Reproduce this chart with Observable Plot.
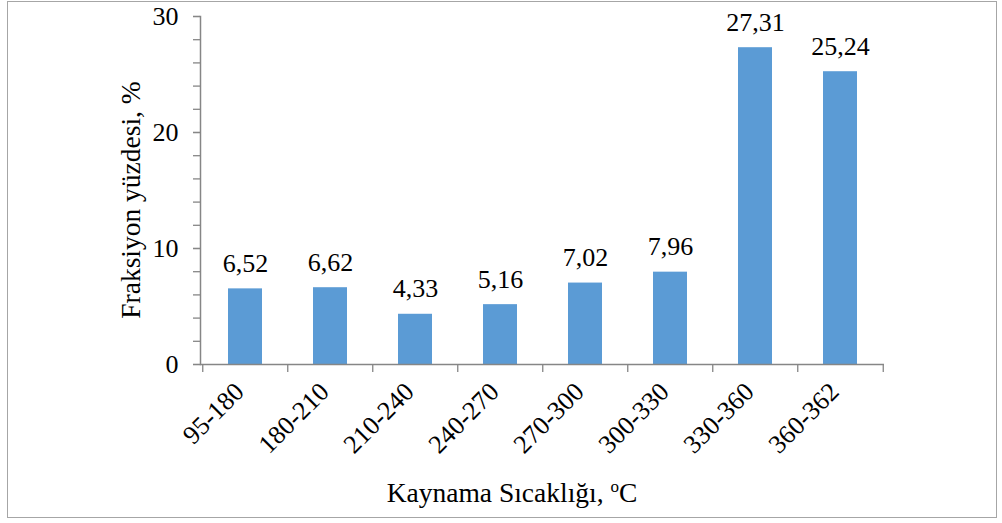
<!DOCTYPE html>
<html>
<head>
<meta charset="utf-8">
<script src="https://cdn.jsdelivr.net/npm/d3@7"></script>
<script src="https://cdn.jsdelivr.net/npm/@observablehq/plot@0.6"></script>
<style>
  html, body { margin: 0; padding: 0; background: #fff; }
  #wrap { position: relative; width: 1002px; height: 523px; overflow: hidden; }
  #border { position: absolute; left: 7px; top: 1px; width: 990px; height: 517px; border: 1.5px solid #a6a6a6; box-sizing: border-box; }
  #chart { position: absolute; left: 0; top: 0; }
</style>
</head>
<body>
<div id="wrap"><div id="border"></div><div id="chart"></div></div>
<script>
const categories = ["95-180", "180-210", "210-240", "240-270", "270-300", "300-330", "330-360", "360-362"];
const values = [6.52, 6.62, 4.33, 5.16, 7.02, 7.96, 27.31, 25.24];
const yTicks = [0, 10, 20, 30];
const yMinorTicks = [0, 2, 4, 6, 8, 10, 12, 14, 16, 18, 20, 22, 24, 26, 28, 30];
const yTitle = "Fraksiyon yüzdesi, %";
const xTitle = "Kaynama Sıcaklığı, ";

const data = categories.map((c, i) => ({cat: c, val: values[i]}));
const fmt = v => v.toFixed(2).replace(".", ",");

const W = 1002, H = 523;
const mL = 200, mR = 118, mT = 16, mB = 159;
const step = (W - mL - mR) / categories.length;
const font = "'Liberation Serif', 'Times New Roman', serif";
const axisGray = "#868686";
const FS = 26;
const TFS = 27.5;

const chart = Plot.plot({
  width: W, height: H,
  marginLeft: mL, marginRight: mR, marginTop: mT, marginBottom: mB,
  style: {fontFamily: font, fontSize: FS + "px", color: "#000", background: "transparent", overflow: "visible"},
  x: {domain: categories, paddingInner: 0.6, paddingOuter: 0.3, axis: null},
  y: {domain: [0, 30], axis: null},
  marks: [
    Plot.barY(data, {x: "cat", y: "val", fill: "#5B9BD5"}),
    Plot.text(data, {x: "cat", y: "val", text: d => fmt(d.val), lineAnchor: "bottom", dy: -17, fontSize: FS, fill: "#000"}),
    Plot.axisY({ticks: yMinorTicks, tickSize: 7, tickFormat: () => "", stroke: axisGray, strokeWidth: 1.3, label: null}),
    Plot.axisY({ticks: yTicks, tickSize: 7, tickPadding: 15, fontSize: FS, stroke: axisGray, strokeWidth: 1.3, fill: "#000", label: null}),
    Plot.frame({anchor: "left", stroke: axisGray, strokeWidth: 1.5}),
    Plot.ruleY([0], {stroke: axisGray, strokeWidth: 1.5}),
    Plot.axisX({tickSize: 8, dx: -step / 2, tickFormat: () => "", stroke: axisGray, strokeWidth: 1.3, label: null}),
    Plot.axisX({ticks: [categories[categories.length - 1]], tickSize: 8, dx: step / 2, tickFormat: () => "", stroke: axisGray, strokeWidth: 1.3, label: null}),
    Plot.axisX({tickSize: 0, tickRotate: -45, tickPadding: 23, dx: -6, fontSize: FS, fill: "#000", label: null})
  ]
});

const svg = d3.select(chart);
// y title
svg.append("text")
  .attr("transform", "translate(140,200) rotate(-90)")
  .attr("text-anchor", "middle")
  .style("font-family", font).style("font-size", TFS + "px").attr("fill", "#000")
  .text(yTitle);
// x title with superscript "o"
const t = svg.append("text")
  .attr("x", 512).attr("y", 502)
  .attr("text-anchor", "middle")
  .style("font-family", font).style("font-size", TFS + "px").attr("fill", "#000");
t.append("tspan").text(xTitle);
t.append("tspan").attr("font-size", "17px").attr("dy", "-10").text("o");
t.append("tspan").attr("dy", "10").text("C");

document.getElementById("chart").appendChild(chart);
</script>
</body>
</html>
